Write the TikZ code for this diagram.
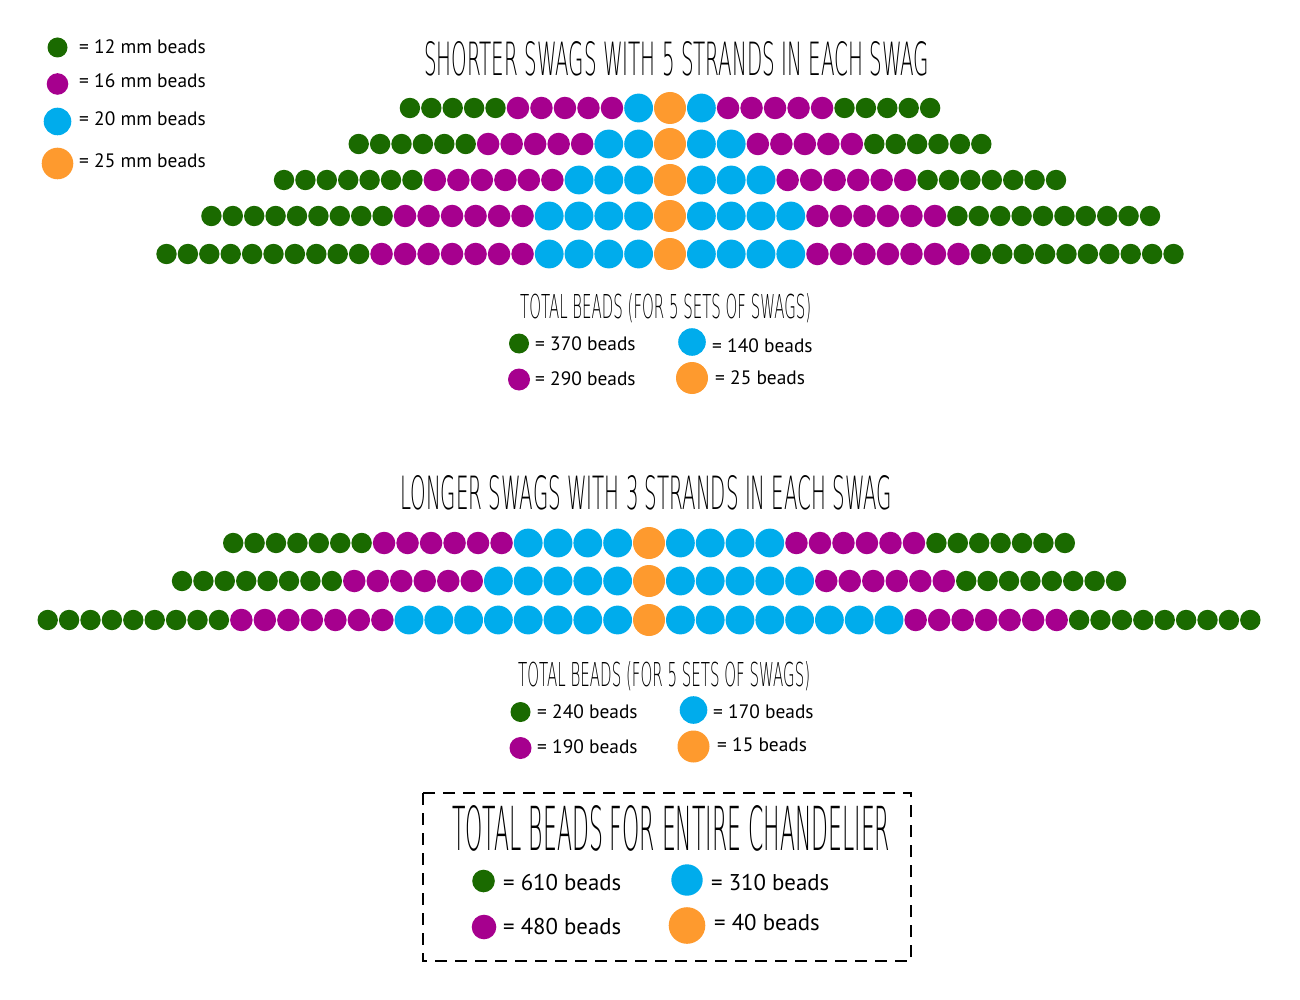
\documentclass[tikz,border=0pt]{standalone}
\usepackage{fontspec}
\usepackage{graphicx}
\newfontfamily\lab{PT Sans}
\newfontfamily\hand{DejaVu Sans ExtraLight}
\definecolor{cG}{RGB}{26,106,0}
\definecolor{cP}{RGB}{166,0,142}
\definecolor{cB}{RGB}{0,172,236}
\definecolor{cO}{RGB}{254,154,46}
\def\rG{10.2}\def\rP{11.25}\def\rB{14.4}\def\rO{16}\def\gp{1}
\newcommand\beadrow[8]{%
  \fill[cO] (#2,#1) circle (\rO pt);
  \pgfmathsetmacro\xb{#2-\rO-\rB-\gp}
  \foreach \i in {1,...,#3} {\fill[cB] ({\xb-(\i-1)*(2*\rB+\gp)},#1) circle (\rB pt);}
  \pgfmathsetmacro\xp{\xb-(#3-1)*(2*\rB+\gp)-\rB-\rP-\gp}
  \foreach \i in {1,...,#4} {\fill[cP] ({\xp-(\i-1)*(2*\rP+\gp)},#1) circle (\rP pt);}
  \pgfmathsetmacro\xg{\xp-(#4-1)*(2*\rP+\gp)-\rP-\rG-\gp}
  \foreach \i in {1,...,#5} {\fill[cG] ({\xg-(\i-1)*(2*\rG+\gp)},#1) circle (\rG pt);}
  \pgfmathsetmacro\xb{#2+\rO+\rB+\gp}
  \foreach \i in {1,...,#6} {\fill[cB] ({\xb+(\i-1)*(2*\rB+\gp)},#1) circle (\rB pt);}
  \pgfmathsetmacro\xp{\xb+(#6-1)*(2*\rB+\gp)+\rB+\rP+\gp}
  \foreach \i in {1,...,#7} {\fill[cP] ({\xp+(\i-1)*(2*\rP+\gp)},#1) circle (\rP pt);}
  \pgfmathsetmacro\xg{\xp+(#7-1)*(2*\rP+\gp)+\rP+\rG+\gp}
  \foreach \i in {1,...,#8} {\fill[cG] ({\xg+(\i-1)*(2*\rG+\gp)},#1) circle (\rG pt);}
}
\begin{document}
\begin{tikzpicture}[x=1pt,y=-1pt,
  lbl/.style={font=\lab\fontsize{19.4}{21}\selectfont, anchor=base west, inner sep=0},
  biglbl/.style={font=\lab\fontsize{22.8}{24}\selectfont, anchor=base west, inner sep=0},
  ttl/.style={anchor=base west, inner sep=0}]
\useasboundingbox (0,0) rectangle (1300,1000);

% key
\fill[cG] (57.5,47.5) circle (10pt);
\fill[cP] (57.5,84) circle (10.8pt);
\fill[cB] (57.5,121.5) circle (13.8pt);
\fill[cO] (57.5,163.5) circle (15.8pt);
\node[lbl] (k1) at (79,54) {= 12 mm beads};
\node[lbl] (k2) at (79,88) {= 16 mm beads};
\node[lbl] (k3) at (79,126) {= 20 mm beads};
\node[lbl] (k4) at (79,168) {= 25 mm beads};

% shorter swags
\node[ttl] (t1) at (424,76) {\resizebox{505pt}{34pt}{\hand SHORTER SWAGS WITH 5 STRANDS IN EACH SWAG}};
\beadrow{108}{670}{1}{5}{5}{1}{5}{5}
\beadrow{144}{670}{2}{5}{6}{2}{5}{6}
\beadrow{180}{670}{3}{6}{7}{3}{6}{7}
\beadrow{216}{670}{4}{6}{9}{4}{6}{10}
\beadrow{254}{670}{4}{7}{10}{4}{7}{10}

\node[ttl] (s1) at (520,318) {\resizebox{291pt}{25pt}{\hand TOTAL BEADS (FOR 5 SETS OF SWAGS)}};
\fill[cG] (519,343.5) circle (10pt);
\fill[cP] (519,379.5) circle (11pt);
\fill[cB] (692,342) circle (13.8pt);
\fill[cO] (692,378) circle (16pt);
\node[lbl] (s1a) at (535,350.5) {= 370 beads};
\node[lbl] (s1b) at (535,385) {= 290 beads};
\node[lbl] (s1c) at (712,352) {= 140 beads};
\node[lbl] (s1d) at (715,384) {= 25 beads};

% longer swags
\node[ttl] (t2) at (400,509) {\resizebox{492pt}{34pt}{\hand LONGER SWAGS WITH 3 STRANDS IN EACH SWAG}};
\beadrow{543}{649}{4}{6}{7}{4}{6}{7}
\beadrow{581}{649}{5}{6}{8}{5}{6}{8}
\beadrow{620}{649}{8}{7}{9}{8}{7}{9}

\node[ttl] (s2) at (518,686) {\resizebox{292pt}{25pt}{\hand TOTAL BEADS (FOR 5 SETS OF SWAGS)}};
\fill[cG] (520.5,712) circle (10pt);
\fill[cP] (520.5,748) circle (11pt);
\fill[cB] (693.5,710) circle (13.8pt);
\fill[cO] (693.5,746.5) circle (16pt);
\node[lbl] (s2a) at (537,718) {= 240 beads};
\node[lbl] (s2b) at (537,753) {= 190 beads};
\node[lbl] (s2c) at (713,718) {= 170 beads};
\node[lbl] (s2d) at (717,751) {= 15 beads};

% total box
\draw[line width=2pt, dash pattern=on 12pt off 8pt] (423,793) rectangle (911,961);
\node[ttl] (bt) at (452,850) {\resizebox{438pt}{45pt}{\hand TOTAL BEADS FOR ENTIRE CHANDELIER}};
\fill[cG] (483.5,881) circle (11.3pt);
\fill[cP] (484,927) circle (12.3pt);
\fill[cB] (687,880) circle (15.7pt);
\fill[cO] (687,925.5) circle (18.3pt);
\node[biglbl] (b1) at (503,890) {= 610 beads};
\node[biglbl] (b2) at (503,934) {= 480 beads};
\node[biglbl] (b3) at (711,890) {= 310 beads};
\node[biglbl] (b4) at (714,930) {= 40 beads};
\end{tikzpicture}
\end{document}
